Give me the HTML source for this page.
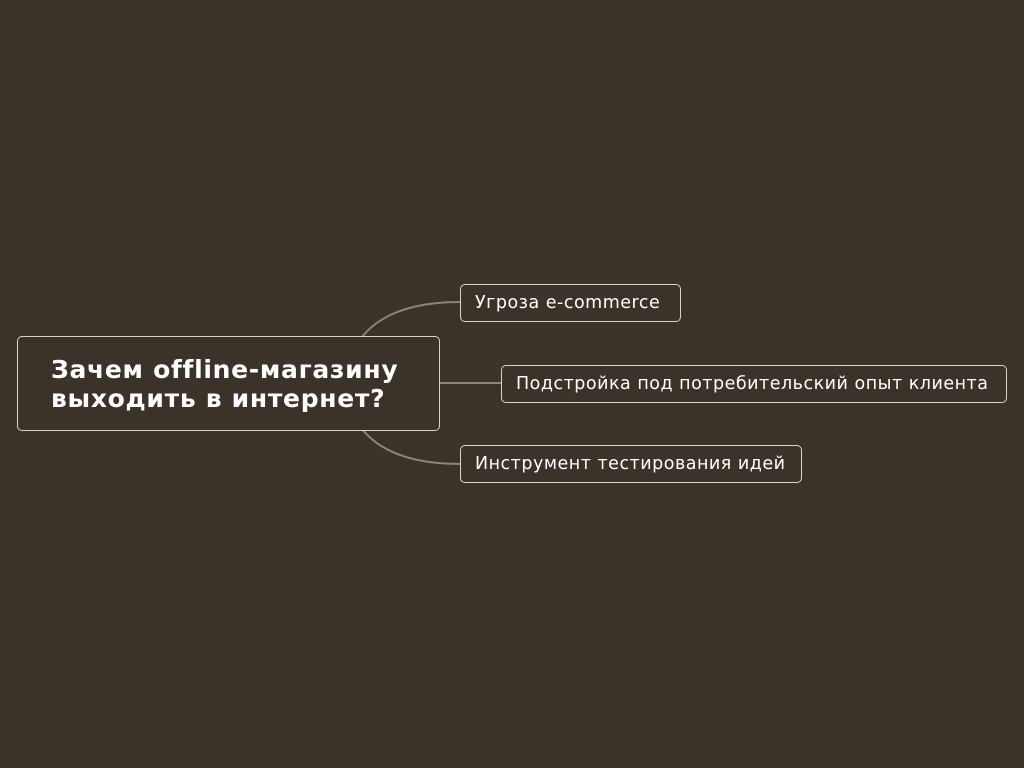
<!DOCTYPE html>
<html><head><meta charset="utf-8"><style>
body{margin:0;width:1024px;height:768px;background:#3b322a;overflow:hidden;position:relative;font-family:"DejaVu Sans","Liberation Sans",sans-serif;color:#fff}
.b{position:absolute;box-sizing:border-box;border:1px solid #d9d3cc;border-radius:5px;background:#3b322a}
.c{font-size:17.5px;letter-spacing:0.5px;line-height:36px;padding-left:14px;white-space:nowrap}
</style></head><body>
<svg width="1024" height="768" style="position:absolute;left:0;top:0">
<g fill="none" stroke="#8a8580" stroke-width="2">
<path d="M362 337 Q390 302 460 302"/>
<path d="M439 383 L501 383"/>
<path d="M362 429 Q390 464 460 464"/>
</g></svg>
<div class="b" style="left:17px;top:336px;width:423px;height:95px;font-weight:bold;font-size:25px;letter-spacing:0.7px;line-height:29px;padding:18px 0 0 33px;white-space:nowrap">Зачем offline-магазину<br>выходить в интернет?</div>
<div class="b c" style="left:460px;top:284px;width:221px;height:38px">Угроза e-commerce</div>
<div class="b c" style="left:501px;top:365px;width:506px;height:38px">Подстройка под потребительский опыт клиента</div>
<div class="b c" style="left:460px;top:445px;width:342px;height:38px">Инструмент тестирования идей</div>
</body></html>
